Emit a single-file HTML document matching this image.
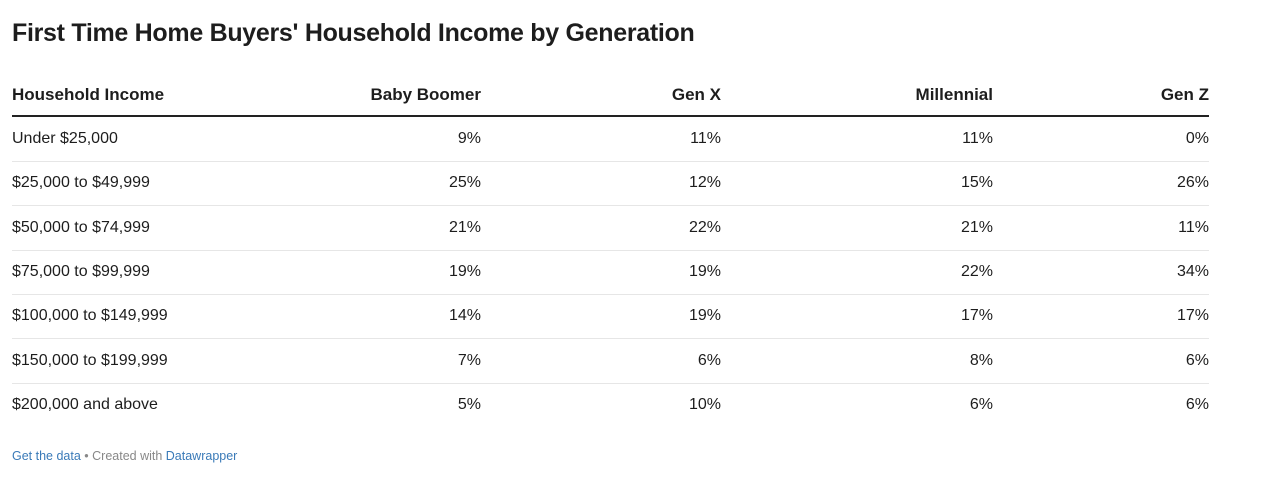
<!DOCTYPE html>
<html><head><meta charset="utf-8">
<style>
body{margin:0;width:1280px;height:490px;background:#fff;font-family:"Liberation Sans",Arial,sans-serif;color:#1d1d1d;position:relative;overflow:hidden}
.a{position:absolute;white-space:nowrap}
#title{left:12px;top:19px;font-size:25px;font-weight:bold;letter-spacing:-0.3px}
.h{font-size:17px;font-weight:bold;top:85px}
.c{font-size:16px}
.line{position:absolute;left:12px;width:1197px}
#foot{left:12px;top:449px;font-size:12.5px;color:#888}
#foot span{color:#3a7ab8}
</style></head><body>
<div class="a" id="title">First Time Home Buyers' Household Income by Generation</div>
<div id="tbl"></div>
<div class="a" id="foot"><span>Get the data</span> • Created with <span>Datawrapper</span></div>
<script>
const headers=["Household Income","Baby Boomer","Gen X","Millennial","Gen Z"];
const categories=["Under $25,000","$25,000 to $49,999","$50,000 to $74,999","$75,000 to $99,999","$100,000 to $149,999","$150,000 to $199,999","$200,000 and above"];
const boomer=[9,25,21,19,14,7,5];
const genx=[11,12,22,19,19,6,10];
const millennial=[11,15,21,22,17,8,6];
const genz=[0,26,11,34,17,6,6];
const series=[boomer,genx,millennial,genz];
const rights=[481,721,993,1209];
const t=document.getElementById('tbl');
function add(txt,cls,left,right,top){
  const d=document.createElement('div');d.className='a '+cls;d.textContent=txt;
  if(left!=null)d.style.left=left+'px';else d.style.right=(1280-right)+'px';
  d.style.top=top+'px';t.appendChild(d);return d;
}
headers.forEach((h,i)=>{
  const d=add(h,'h',i==0?12:null,i==0?null:rights[i-1],85);
  
  
});
const hl=document.createElement('div');hl.className='line';hl.style.top='115px';hl.style.height='2px';hl.style.background='#222';


t.appendChild(hl);
const rowH=44.3;
categories.forEach((c,r)=>{
  const cy=139+r*rowH;
  const d=add(c,'c',12,null,cy-9);
  
  
  series.forEach((s,j)=>{
    const v=add(s[r]+'%','c',null,rights[j],cy-9);
    
    
  });
  if(r<categories.length-1){
    const l=document.createElement('div');l.className='line';l.style.top=Math.round(cy+22)+'px';l.style.height='1px';l.style.background='#e6e6e6';
    
    
    t.appendChild(l);
  }
});
</script>
</body></html>
